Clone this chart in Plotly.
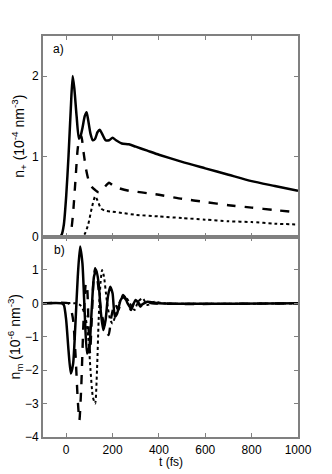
import plotly.graph_objects as go

# panel a) : n+ (1e-4 nm^-3)
t_a_solid = [-100, -30, -20, -10, 0, 10, 20, 28, 35, 45, 55, 62, 70, 80, 88, 95, 105, 115, 125, 135,
             145, 155, 170, 185, 200, 215, 240, 270, 300, 350, 400, 500, 600, 700, 800, 900, 1000]
n_a_solid = [0, 0, 0.02, 0.15, 0.5, 1.0, 1.6, 2.0, 1.85, 1.5, 1.22, 1.25, 1.35, 1.5, 1.55, 1.45, 1.28, 1.2, 1.22, 1.3,
             1.33, 1.28, 1.2, 1.2, 1.23, 1.2, 1.16, 1.15, 1.12, 1.07, 1.02, 0.93, 0.85, 0.77, 0.69, 0.63, 0.57]

t_a_dash = [-100, 10, 20, 30, 40, 50, 60, 65, 75, 85, 95, 110, 125, 140, 155, 170, 185, 200, 230, 270,
            300, 350, 400, 500, 600, 700, 800, 900, 1000]
n_a_dash = [0, 0, 0.05, 0.3, 0.7, 1.1, 1.25, 1.25, 1.05, 0.85, 0.72, 0.62, 0.58, 0.55, 0.57, 0.63, 0.67, 0.64, 0.6, 0.57,
            0.56, 0.54, 0.52, 0.47, 0.43, 0.39, 0.36, 0.33, 0.30]

t_a_dot = [-100, 70, 80, 95, 110, 125, 135, 150, 170, 200, 250, 300, 400, 500, 600, 700, 800, 900, 1000]
n_a_dot = [0, 0, 0.03, 0.15, 0.35, 0.5, 0.45, 0.35, 0.32, 0.31, 0.29, 0.27, 0.25, 0.23, 0.21, 0.19, 0.18, 0.16, 0.15]

# panel b) : n_m (1e-6 nm^-3)
t_b_solid = [-100, -20, -10, 0, 10, 20, 30, 40, 50, 60, 70, 80, 90, 100, 110, 120, 130, 140, 150, 160,
             170, 180, 190, 200, 210, 220, 235, 250, 265, 280, 300, 320, 350, 400, 1000]
n_b_solid = [0, 0, -0.05, -0.5, -1.4, -2.1, -1.8, -0.6, 0.8, 1.7, 1.2, -0.3, -1.5, -1.3, -0.2, 0.8, 1.0, 0.6, -0.3, -0.8,
             -0.5, 0.2, 0.5, 0.3, -0.4, -0.3, 0.1, 0.22, 0.0, -0.15, 0.1, -0.05, 0.05, 0, 0]

t_b_dash = [-100, 10, 20, 30, 40, 50, 57, 65, 75, 85, 90, 97, 103, 110, 118, 125, 135, 150, 170, 183,
            195, 210, 225, 245, 265, 280, 300, 320, 340, 370, 1000]
n_b_dash = [0, 0, -0.15, -0.5, -1.5, -2.9, -3.5, -2.5, -0.5, 0.6, 0.5, -0.8, -1.5, -0.5, 0.7, 1.05, 0.7, -0.2, -0.8, -0.95,
            -0.4, 0.0, -0.2, 0.25, 0.0, -0.2, 0.15, -0.1, 0.05, 0, 0]

t_b_dot = [-100, 40, 60, 80, 95, 105, 115, 125, 133, 140, 148, 155, 163, 175, 190, 200, 215, 235, 255, 275,
           295, 310, 330, 350, 380, 420, 1000]
n_b_dot = [0, 0, -0.05, -0.3, -1.0, -2.0, -2.8, -3.0, -2.0, -0.5, 0.6, 1.0, 0.8, 0.1, -0.5, -0.6, -0.3, 0.1, 0.2, 0.0,
           -0.2, 0.05, 0.15, -0.05, 0.05, 0, 0]

x_ticks = [0, 200, 400, 600, 800, 1000]
ya_ticks = [0, 1, 2]
yb_ticks = [-4, -3, -2, -1, 0, 1]

fig = go.Figure()

styles = [('solid', 2.5), ('dash', 2.4), ('dot', 2.0)]
panel_a = [(t_a_solid, n_a_solid), (t_a_dash, n_a_dash), (t_a_dot, n_a_dot)]
panel_b = [(t_b_solid, n_b_solid), (t_b_dash, n_b_dash), (t_b_dot, n_b_dot)]

for (x, y), (dash, w) in zip(panel_a, styles):
    fig.add_trace(go.Scatter(x=x, y=y, mode='lines', line=dict(color='black', width=w, dash=dash, shape='spline', smoothing=0.6),
                             xaxis='x', yaxis='y', showlegend=False))
for (x, y), (dash, w) in zip(panel_b, styles):
    fig.add_trace(go.Scatter(x=x, y=y, mode='lines', line=dict(color='black', width=w, dash=dash, shape='spline', smoothing=0.6),
                             xaxis='x2', yaxis='y2', showlegend=False))

axis_common = dict(showline=True, linecolor='#808080', linewidth=2, mirror='ticks',
                   ticks='inside', ticklen=4, tickcolor='#808080', showgrid=False, zeroline=False,
                   automargin=False, tickfont=dict(size=12, color='black'))

fig.update_layout(
    width=332,
    height=474,
    plot_bgcolor='white',
    paper_bgcolor='white',
    font=dict(family='Liberation Sans, Arial, sans-serif', size=12, color='black'),
    margin=dict(l=43, r=34, t=36, b=37),
    xaxis=dict(axis_common, range=[-100, 1000], tickvals=x_ticks, showticklabels=False,
               domain=[0, 1], anchor='y'),
    yaxis=dict(axis_common, range=[0, 2.5], tickvals=ya_ticks, domain=[0.5, 1], anchor='x',
               title=dict(text='n<sub>+</sub> (10<sup>-4</sup> nm<sup>-3</sup>)', standoff=4)),
    xaxis2=dict(axis_common, range=[-100, 1000], tickvals=x_ticks, domain=[0, 1], anchor='y2',
                ticklabelstandoff=1),
    yaxis2=dict(axis_common, range=[-4, 2], tickvals=yb_ticks, domain=[0, 0.5], anchor='x2',
                title=dict(text='n<sub>m</sub> (10<sup>-6</sup> nm<sup>-3</sup>)', standoff=0)),
    annotations=[
        dict(text='a)', x=0.03, y=0.99, xref='paper', yref='paper', showarrow=False,
             xanchor='left', yanchor='top', font=dict(size=12)),
        dict(text='b)', x=0.035, y=0.49, xref='paper', yref='paper', showarrow=False,
             xanchor='left', yanchor='top', font=dict(size=12)),
        dict(text='t (fs)', x=0.5, y=-0.062, xref='paper', yref='paper', showarrow=False,
             xanchor='center', yanchor='middle', font=dict(size=12)),
    ],
)

# drop the default page margin so the figure fills the window; no modebar
fig.write_html("out.html", config={'displayModeBar': False},
               post_script="document.body.style.margin='0';")
